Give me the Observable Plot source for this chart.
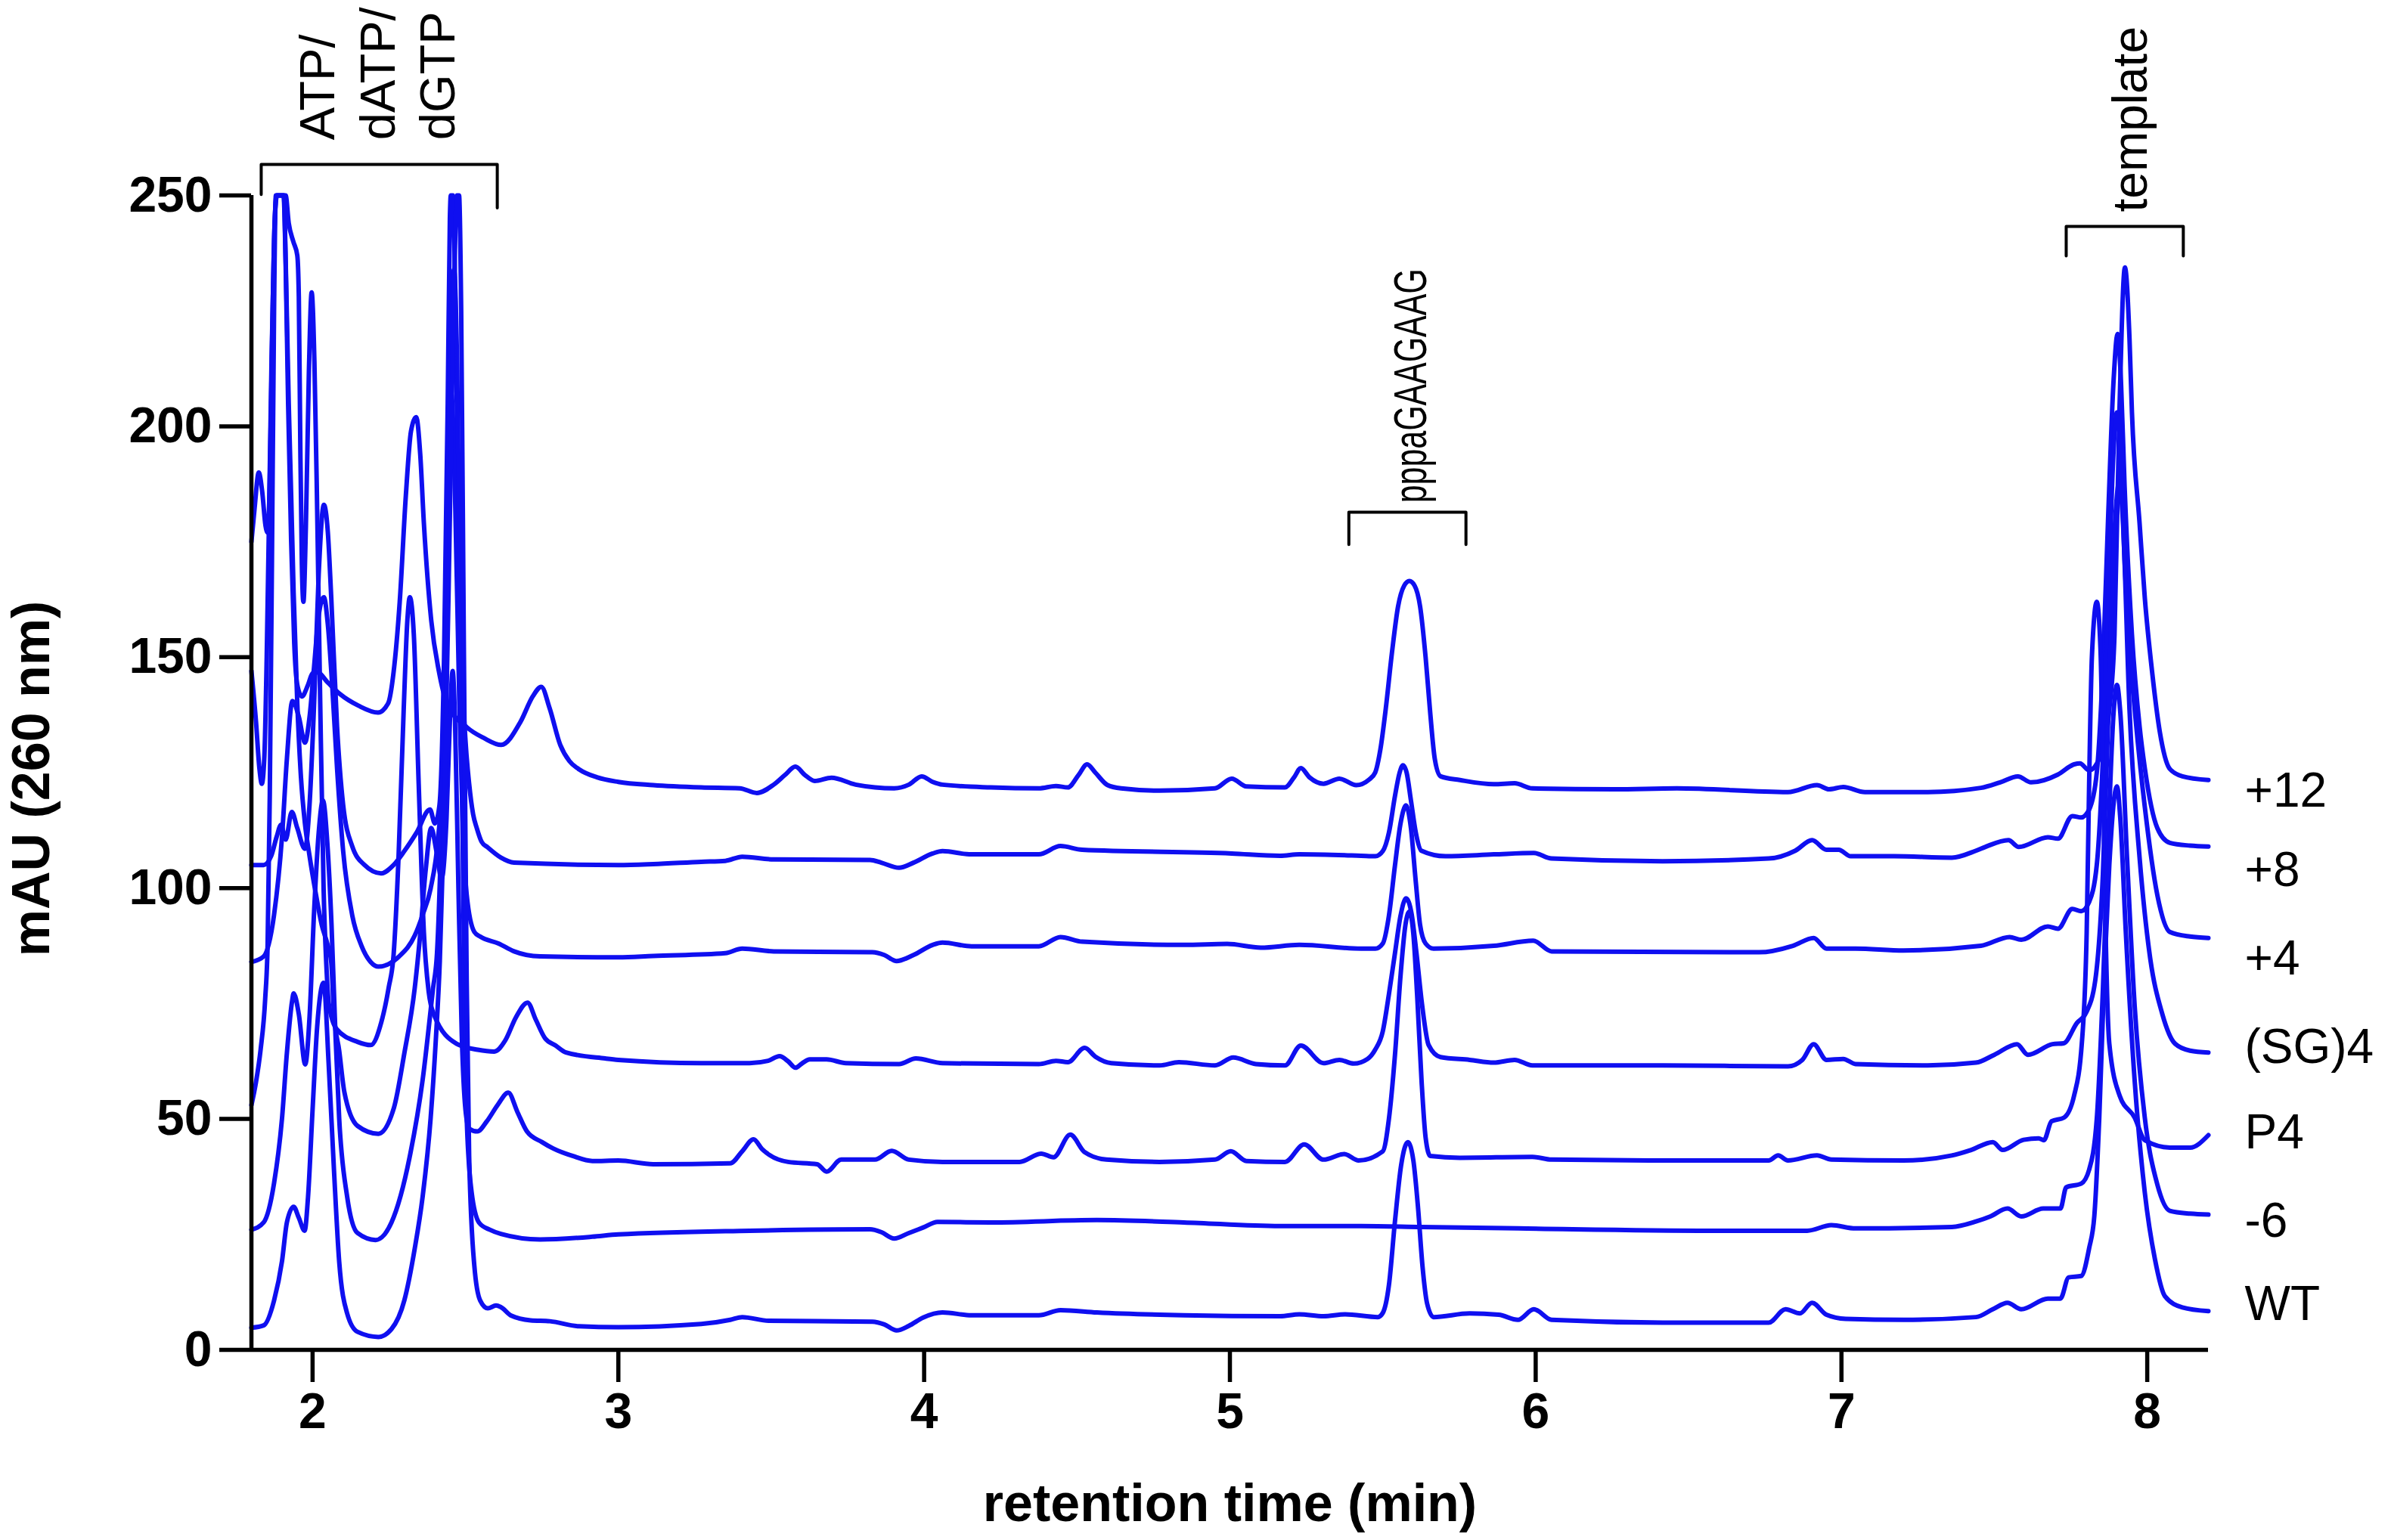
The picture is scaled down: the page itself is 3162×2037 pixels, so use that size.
<!DOCTYPE html>
<html>
<head>
<meta charset="utf-8">
<script src="https://cdn.jsdelivr.net/npm/d3@7"></script>
<script src="https://cdn.jsdelivr.net/npm/@observablehq/plot@0.6"></script>
<style>
  html, body { margin: 0; padding: 0; background: #fff; overflow: hidden; }
  #chart svg { display: block; }
</style>
</head>
<body>
<div id="chart"></div>
<script>
// ---- Data (x = retention time, min; y = mAU 260 nm) ----
const traceNames = ["+12", "+8", "+4", "(SG)4", "P4", "-6", "WT"];
const labelY = [121.0, 103.8, 84.6, 65.5, 47.0, 27.8, 9.8];
const xTicks = [2, 3, 4, 5, 6, 7, 8];
const yTicks = [0, 50, 100, 150, 200, 250];

const p12 = [[1.8,147],[1.815,136],[1.826,126],[1.834,122.6],[1.842,128],[1.85,150],[1.858,182],[1.866,215],[1.874,240],[1.882,250],[1.905,250],[1.912,235],[1.92,205],[1.93,175],[1.94,153],[1.95,144],[1.965,141.5],[1.985,144],[2.0,146.5],[2.016,146.7],[2.05,144.5],[2.09,142],[2.15,139.5],[2.214,138],[2.247,140],[2.265,146.8],[2.285,162],[2.305,185],[2.322,199],[2.339,202],[2.352,194],[2.364,179],[2.388,158],[2.413,147],[2.438,140.3],[2.505,134.8],[2.56,132.5],[2.617,131],[2.68,136],[2.72,141.5],[2.748,143.6],[2.775,139],[2.81,131],[2.84,127.5],[2.872,125.7],[2.93,124],[3.0,123],[3.114,122.3],[3.271,121.8],[3.397,121.6],[3.453,120.6],[3.508,122.4],[3.545,124.5],[3.579,126.3],[3.61,124.5],[3.642,123.2],[3.697,123.9],[3.776,122.4],[3.902,121.6],[3.95,122.4],[3.992,124.2],[4.028,123],[4.06,122.4],[4.218,121.8],[4.375,121.6],[4.431,122.1],[4.47,121.8],[4.505,124.5],[4.533,126.8],[4.56,125],[4.6,122.3],[4.644,121.6],[4.77,121.1],[4.951,121.6],[5.006,123.7],[5.054,122],[5.18,121.8],[5.21,124],[5.232,126],[5.26,124],[5.306,122.6],[5.358,123.7],[5.413,122.3],[5.455,123.5],[5.475,125],[5.492,130],[5.51,139],[5.53,151],[5.55,161],[5.57,165.5],[5.587,166.5],[5.604,165.5],[5.622,161],[5.64,150],[5.655,138],[5.67,128],[5.689,124.2],[5.752,123.4],[5.863,122.5],[5.931,122.7],[5.989,121.6],[6.257,121.4],[6.462,121.6],[6.825,120.8],[6.92,122.3],[6.959,121.4],[7.006,121.9],[7.077,120.8],[7.282,120.8],[7.456,121.7],[7.519,122.9],[7.577,124.2],[7.62,122.9],[7.708,124.6],[7.761,126.8],[7.78,127],[7.81,125.5],[7.843,128],[7.86,131.2],[7.876,138.7],[7.893,154.8],[7.909,203],[7.927,234.4],[7.942,219],[7.95,203],[7.975,179],[7.992,162.9],[8.016,146.8],[8.041,133.9],[8.074,125.8],[8.115,124.2],[8.2,123.4]];

const p8 = [[1.8,105],[1.84,105],[1.865,107],[1.882,111],[1.897,113.7],[1.912,110.5],[1.932,116.5],[1.95,113],[1.975,108.5],[1.99,118],[2.005,140],[2.02,168],[2.037,183],[2.05,177],[2.061,163],[2.08,135],[2.1,118],[2.13,109],[2.17,105],[2.224,103.2],[2.265,105],[2.3,108],[2.34,112],[2.384,117],[2.4,114],[2.415,118],[2.43,150],[2.442,205],[2.449,245],[2.452,250],[2.459,250],[2.465,235],[2.478,175],[2.49,145],[2.5,132],[2.512,122.6],[2.525,116],[2.537,113],[2.553,110],[2.573,108.8],[2.616,106.6],[2.659,105.5],[3.0,105],[3.114,105.2],[3.271,105.7],[3.35,105.9],[3.405,106.8],[3.508,106.2],[3.823,106.1],[3.86,105.5],[3.918,104.4],[3.965,105.5],[4.028,107.5],[4.06,108],[4.155,107.3],[4.375,107.3],[4.446,109.1],[4.517,108.3],[5.006,107.5],[5.164,107],[5.227,107.3],[5.429,107.0],[5.476,106.9],[5.5,108],[5.52,112],[5.54,120],[5.555,125],[5.566,126.6],[5.578,125],[5.592,119],[5.608,112],[5.626,108.1],[5.705,106.9],[5.863,107.3],[5.994,107.6],[6.052,106.4],[6.415,105.8],[6.762,106.4],[6.849,108.1],[6.904,110.4],[6.951,108.3],[6.991,108.3],[7.03,106.9],[7.172,106.9],[7.361,106.6],[7.44,108.1],[7.47,108.9],[7.546,110.4],[7.58,108.9],[7.675,111.0],[7.708,110.7],[7.755,115.6],[7.784,115.3],[7.81,117],[7.835,125],[7.855,148],[7.872,180],[7.89,210],[7.903,220],[7.914,210],[7.926,187],[7.95,154.9],[7.975,135],[7.992,126],[8.033,113],[8.074,109.8],[8.14,109.2],[8.2,109]];

const p4 = [[1.8,84],[1.84,85.2],[1.874,94.2],[1.9,111.1],[1.916,128],[1.934,140.5],[1.955,137.1],[1.975,131.5],[1.99,137],[2.005,148],[2.02,159],[2.037,163],[2.05,157],[2.065,143],[2.08,126],[2.1,108],[2.13,94],[2.16,87.5],[2.19,84],[2.215,83],[2.283,85.2],[2.334,89.7],[2.36,94.2],[2.386,99.9],[2.411,111.1],[2.428,128],[2.442,170],[2.454,207],[2.466,185],[2.48,140],[2.493,110],[2.504,98.6],[2.529,90.5],[2.548,89.5],[2.608,88.0],[2.659,86.3],[2.744,85.2],[3.0,85.0],[3.114,85.3],[3.35,85.9],[3.405,86.9],[3.508,86.3],[3.831,86.1],[3.87,85.5],[3.91,84.2],[3.965,85.5],[4.028,87.7],[4.06,88.2],[4.155,87.4],[4.375,87.4],[4.446,89.4],[4.517,88.4],[4.849,87.7],[4.991,87.9],[5.101,87.1],[5.227,87.7],[5.429,86.9],[5.476,86.9],[5.5,88],[5.52,94],[5.54,105],[5.558,114],[5.576,117.9],[5.592,113],[5.607,102],[5.622,92],[5.64,88],[5.666,86.9],[5.863,87.5],[5.992,88.6],[6.052,86.3],[6.73,86.1],[6.841,87.5],[6.909,89.2],[6.951,86.9],[7.046,86.9],[7.203,86.5],[7.456,87.5],[7.55,89.4],[7.588,88.8],[7.675,91.7],[7.708,91.2],[7.755,95.5],[7.784,95],[7.81,97],[7.835,105],[7.855,128],[7.872,160],[7.888,192],[7.901,203],[7.912,196],[7.926,171],[7.942,152],[7.959,138.7],[7.992,117.6],[8.033,98.5],[8.074,90.5],[8.14,89.5],[8.2,89.2]];

const sg4 = [[1.8,175],[1.81,182],[1.824,190],[1.835,186],[1.846,178.5],[1.853,177],[1.86,188],[1.868,220],[1.877,246],[1.884,250],[1.912,250],[1.922,244],[1.937,240],[1.95,237],[1.955,228],[1.96,195],[1.965,170],[1.97,162],[1.978,178],[1.988,212],[1.997,229],[2.006,214],[2.015,182],[2.025,140],[2.036,100],[2.046,82],[2.053,75],[2.078,69.5],[2.147,66.7],[2.19,66],[2.225,71],[2.249,78.5],[2.265,85.6],[2.281,106.5],[2.298,138.7],[2.31,158],[2.318,163],[2.331,155],[2.347,122.6],[2.364,90.4],[2.38,77.4],[2.397,72.6],[2.471,66.3],[2.54,65],[2.594,64.6],[2.63,67],[2.665,72],[2.703,75.2],[2.73,71.5],[2.76,67.5],[2.795,65.9],[2.829,64.4],[2.957,63.1],[3.0,62.8],[3.271,62.1],[3.429,62.1],[3.49,62.6],[3.527,63.6],[3.555,62.5],[3.579,61.1],[3.6,62],[3.626,62.9],[3.681,62.9],[3.744,62.1],[3.918,61.9],[3.973,63.1],[4.06,62.1],[4.375,61.9],[4.431,62.6],[4.47,62.3],[4.525,65.4],[4.56,63.5],[4.612,62.1],[4.77,61.6],[4.833,62.3],[4.951,61.6],[5.011,63.3],[5.085,61.9],[5.18,61.6],[5.232,65.9],[5.306,62.1],[5.358,62.8],[5.405,62.0],[5.45,63],[5.475,65],[5.5,69],[5.52,77],[5.54,86],[5.558,94],[5.576,97.8],[5.594,94.5],[5.61,86],[5.628,75],[5.65,66],[5.689,63.4],[5.784,62.8],[5.863,62.2],[5.931,62.8],[5.989,61.6],[6.415,61.6],[6.825,61.4],[6.872,62.8],[6.909,66.2],[6.951,62.8],[7.006,63.0],[7.046,61.9],[7.282,61.6],[7.44,62.2],[7.5,63.9],[7.574,66.2],[7.61,63.9],[7.69,66.2],[7.727,66.4],[7.77,70.8],[7.8,73],[7.83,80],[7.855,103],[7.875,142],[7.893,177],[7.909,188],[7.92,180],[7.942,138.7],[7.975,106.6],[8.008,85.6],[8.049,72.8],[8.091,66.3],[8.14,64.8],[8.2,64.4]];

const pP4 = [[1.8,53],[1.815,58],[1.83,65],[1.845,76],[1.853,88],[1.86,120],[1.867,170],[1.874,225],[1.88,250],[1.906,250],[1.912,236],[1.922,205],[1.93,185],[1.938,164],[1.95,140],[1.962,124],[1.975,114],[1.99,107],[2.01,99],[2.03,92],[2.048,88],[2.061,84],[2.07,72.7],[2.087,64.8],[2.104,55.8],[2.147,48.5],[2.215,46.8],[2.266,52.4],[2.3,64.2],[2.334,78.3],[2.352,90],[2.37,104],[2.388,113],[2.405,108],[2.422,102],[2.438,115],[2.45,138],[2.458,147],[2.466,136],[2.477,100],[2.488,68],[2.5,52],[2.512,47.9],[2.539,47.3],[2.57,49.5],[2.605,53],[2.64,55.7],[2.67,51.5],[2.701,47.3],[2.75,45],[2.787,43.6],[2.85,42],[2.915,40.9],[3.0,41],[3.114,40.2],[3.366,40.4],[3.405,43],[3.442,45.6],[3.47,43.5],[3.492,42.3],[3.555,40.7],[3.65,40.2],[3.681,38.6],[3.729,41.2],[3.839,41.2],[3.894,43.1],[3.95,41.2],[4.06,40.7],[4.312,40.7],[4.383,42.5],[4.423,41.7],[4.478,46.6],[4.525,42.8],[4.596,41.2],[4.77,40.7],[4.951,41.2],[5.003,43.0],[5.054,40.9],[5.18,40.7],[5.243,44.5],[5.306,41.2],[5.374,42.4],[5.421,41.0],[5.5,43],[5.52,50],[5.54,64],[5.558,81],[5.574,92],[5.587,94.9],[5.6,90],[5.613,76],[5.627,58],[5.64,46],[5.655,42],[5.752,41.6],[5.989,41.8],[6.052,41.2],[6.415,41.0],[6.762,41.0],[6.793,42.1],[6.825,41.0],[6.92,42.1],[6.967,41.2],[7.203,41.0],[7.361,42.1],[7.424,43.3],[7.495,45.0],[7.527,43.3],[7.596,45.5],[7.645,45.8],[7.662,45.4],[7.687,49.5],[7.728,50.3],[7.761,55.1],[7.786,66.3],[7.802,90.5],[7.81,122.6],[7.819,150],[7.835,162],[7.847,152],[7.856,122.6],[7.864,90.5],[7.876,66.3],[7.91,55],[7.959,50.3],[7.992,45.4],[8.074,43.8],[8.14,43.8],[8.2,46.5]];

const m6 = [[1.8,26],[1.84,27.6],[1.874,36.1],[1.9,50.1],[1.916,64.3],[1.933,75.5],[1.938,77.2],[1.955,72.7],[1.976,61.8],[1.99,72],[2.005,95],[2.02,112],[2.034,119],[2.048,110],[2.062,92],[2.075,68],[2.087,50.1],[2.113,33.2],[2.147,25.3],[2.206,23.8],[2.258,27.6],[2.317,41.6],[2.36,58.5],[2.394,78.3],[2.407,86],[2.42,110],[2.435,155],[2.45,210],[2.4625,234],[2.473,212],[2.486,140],[2.496,80],[2.504,50.3],[2.52,34.2],[2.545,27.5],[2.58,26.0],[2.616,25.1],[2.744,23.9],[2.915,24.5],[3.0,25.0],[3.429,25.8],[3.823,26.1],[3.86,25.5],[3.902,24.1],[3.95,25.3],[3.997,26.5],[4.044,27.7],[4.218,27.6],[4.565,28.1],[4.849,27.6],[5.164,26.8],[5.429,26.8],[5.626,26.6],[5.942,26.3],[6.573,25.8],[6.888,25.8],[6.967,27.0],[7.046,26.3],[7.361,26.6],[7.44,27.8],[7.487,28.9],[7.543,30.6],[7.588,28.9],[7.66,30.6],[7.716,30.6],[7.735,35.2],[7.784,36],[7.81,39],[7.835,50],[7.855,78],[7.872,110],[7.89,138],[7.901,144],[7.912,138],[7.934,106.6],[7.959,74.4],[7.992,50.3],[8.033,35.8],[8.074,30.1],[8.14,29.5],[8.2,29.3]];

const wt = [[1.8,4.8],[1.84,5.3],[1.874,10.7],[1.9,19.2],[1.916,27.6],[1.938,31],[1.955,28.6],[1.974,25.8],[1.985,33],[2.0,52],[2.015,70],[2.036,79.5],[2.053,61.4],[2.07,38.9],[2.087,19.1],[2.113,7.9],[2.147,3.9],[2.215,2.8],[2.258,4.5],[2.3,10.7],[2.334,21.9],[2.36,33.2],[2.386,50.1],[2.403,67.1],[2.416,84],[2.43,115],[2.445,165],[2.458,215],[2.468,245],[2.472,250],[2.479,250],[2.486,225],[2.495,150],[2.504,80],[2.512,42],[2.529,18.2],[2.548,10.7],[2.573,9.0],[2.6,9.6],[2.615,9.3],[2.65,7.4],[2.713,6.4],[2.776,6.2],[2.871,5.1],[3.0,4.9],[3.271,5.6],[3.366,6.5],[3.405,7.1],[3.492,6.3],[3.831,6.1],[3.87,5.5],[3.91,4.2],[3.95,5.2],[3.997,7.0],[4.06,8.1],[4.155,7.5],[4.375,7.5],[4.446,8.6],[4.565,8.1],[4.849,7.5],[5.164,7.3],[5.227,7.7],[5.306,7.3],[5.377,7.7],[5.484,7.1],[5.5,8],[5.52,14],[5.54,28],[5.56,40],[5.582,45],[5.6,41],[5.615,31],[5.63,18],[5.645,10],[5.666,7.1],[5.784,7.9],[5.879,7.6],[5.942,6.5],[5.994,8.8],[6.052,6.5],[6.415,5.9],[6.762,5.9],[6.817,8.8],[6.864,7.9],[6.904,10.2],[6.951,7.6],[7.014,6.7],[7.203,6.5],[7.44,7.1],[7.495,8.8],[7.543,10.2],[7.588,8.8],[7.675,11.1],[7.716,11.1],[7.743,15.7],[7.784,16],[7.81,22],[7.827,29],[7.843,50],[7.86,82],[7.876,105],[7.893,120],[7.901,122],[7.912,115],[7.93,90.4],[7.959,58.2],[7.992,34.1],[8.025,19.7],[8.058,11.6],[8.115,9.2],[8.2,8.4]];

// Peak-group annotations (brackets in data units) and their labels
const annotTexts = ["ATP/\ndATP/\ndGTP", "pppaGAAGAAG", "template"];
const annotX = [2.205, 5.583, 7.936];
const annotY = [262, 183.4, 246.4];
const annotSize = [65, 62, 64];
const bracketATP = [[1.832, 250.2], [1.832, 256.7], [2.604, 256.7], [2.604, 247.3]];
const bracketRNA = [[5.389, 174.4], [5.389, 181.4], [5.772, 181.4], [5.772, 174.4]];
const bracketTpl = [[7.735, 236.9], [7.735, 243.3], [8.118, 243.3], [8.118, 236.9]];

// ---- Build tables ----
const series = [p12, p8, p4, sg4, pP4, m6, wt];
const rows = [];
series.forEach((s, i) => {
  s.slice().sort((a, b) => a[0] - b[0]).forEach(([x, y]) => rows.push({trace: traceNames[i], x, y}));
});
const brackets = [];
[bracketATP, bracketRNA, bracketTpl].forEach((b, i) => b.forEach(([x, y]) => brackets.push({g: i, x, y})));
const labels = traceNames.map((t, i) => ({t, y: labelY[i]}));
const annots = annotTexts.map((t, i) => ({t, x: annotX[i], y: annotY[i], s: annotSize[i]}));

const FONT = "'Liberation Sans', Arial, Helvetica, sans-serif";
const BLUE = "#0f0ff0";

const chart = Plot.plot({
  width: 3162,
  height: 2037,
  marginTop: 258,
  marginRight: 242,
  marginBottom: 252,
  marginLeft: 332,
  style: {fontFamily: FONT, background: "#fff", color: "#000", overflow: "visible"},
  x: {domain: [1.8, 8.2]},
  y: {domain: [0, 250]},
  marks: [
    Plot.line(rows, {x: "x", y: "y", z: "trace", stroke: BLUE, strokeWidth: 6, curve: "monotone-x", strokeLinejoin: "round"}),
    Plot.ruleX([1.8], {stroke: "#000", strokeWidth: 5.5}),
    Plot.ruleY([0], {stroke: "#000", strokeWidth: 5.5}),
    Plot.axisX({ticks: xTicks, tickSize: 43, tickPadding: 14, fontSize: 66, fontWeight: "bold", strokeWidth: 5.5, label: null, tickFormat: d => String(d)}),
    Plot.axisY({ticks: yTicks, tickSize: 42, tickPadding: 10, fontSize: 66, fontWeight: "bold", strokeWidth: 5.5, label: null, tickFormat: d => String(d)}),
    Plot.text(["retention time (min)"], {text: d => d, frameAnchor: "bottom", dy: 226, lineAnchor: "bottom", fontSize: 70, fontWeight: "bold", fill: "#000"}),
    Plot.text(["mAU (260 nm)"], {text: d => d, frameAnchor: "left", dx: -268, dy: 8, rotate: -90, lineAnchor: "bottom", textAnchor: "middle", fontSize: 70, fontWeight: "bold", fill: "#000"}),
    Plot.text(labels, {x: () => 8.2, y: "y", text: "t", dx: 48, textAnchor: "start", lineAnchor: "middle", fontSize: 64, fill: "#000"}),
    Plot.line(brackets, {x: "x", y: "y", z: "g", stroke: "#000", strokeWidth: 4, curve: "linear"}),
    ...annots.map(a => Plot.text([a], {x: "x", y: "y", text: "t", rotate: -90, textAnchor: "start", lineAnchor: "middle", lineHeight: 1.22, fontSize: a.s, fill: "#000"}))
  ]
});
// the oligo label in the figure is set in a condensed face: compress it along its run
chart.querySelectorAll("text").forEach(el => {
  if (el.textContent === "pppaGAAGAAG") {
    el.setAttribute("textLength", "310");
    el.setAttribute("lengthAdjust", "spacingAndGlyphs");
  }
});
document.getElementById("chart").appendChild(chart);
</script>
</body>
</html>
